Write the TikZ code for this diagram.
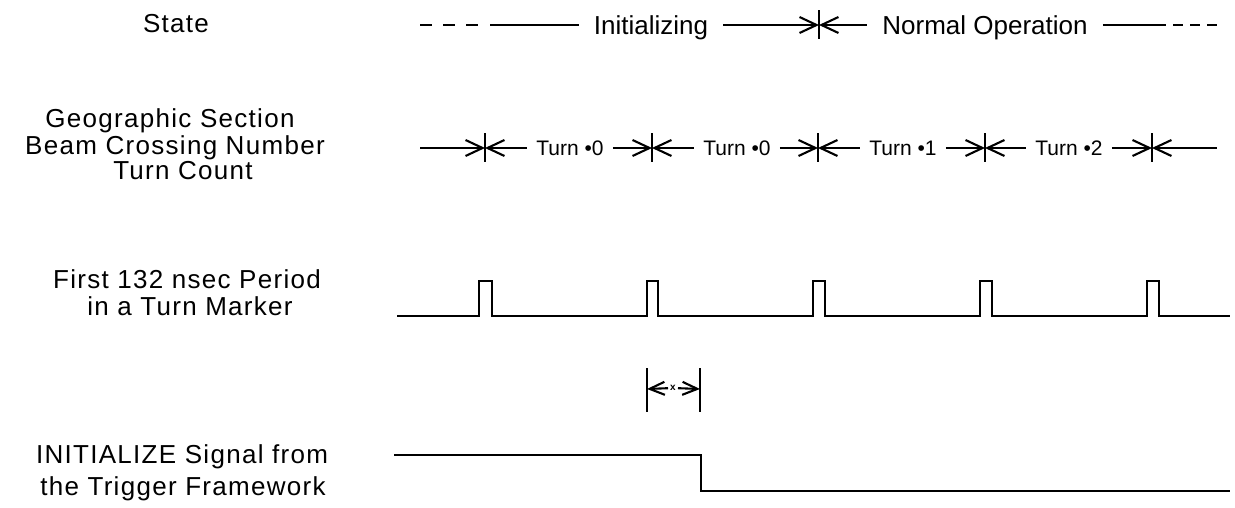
\documentclass[tikz,border=0pt]{standalone}
\usepackage{fontspec}
\setmainfont{Liberation Sans}
\newfontfamily\lblfont[LetterSpace=5]{Liberation Sans}
\usetikzlibrary{arrows.meta}
\tikzset{
  wire/.style={line width=2.1pt, line cap=butt},
  arr/.style={wire, -{Straight Barb[length=17pt,width=16pt]}},
  rarr/.style={wire, {Straight Barb[length=17pt,width=16pt]}-},
  lbl/.style={anchor=base, inner sep=0pt, font=\lblfont\fontsize{26}{28}\selectfont},
  big/.style={inner ysep=0pt, inner xsep=15pt, text height=18.6pt, text depth=0pt, font=\fontsize{26}{28}\selectfont},
  turn/.style={inner ysep=0pt, inner xsep=9pt, text height=15pt, text depth=0pt, font=\fontsize{21}{23}\selectfont},
  tick/.style={wire}
}
\begin{document}
\begin{tikzpicture}[x=1pt,y=-1pt]
\useasboundingbox (0,0) rectangle (1235,508);

% ---- left labels
\node[lbl] (lstate) at (176,33) {State};
\node[lbl] (lgeo)   at (170,128) {Geographic Section};
\node[lbl] (lbeam)  at (175,155) {Beam Crossing Number};
\node[lbl] (lturn)  at (183,180) {Turn Count};
\node[lbl] (lfirst) at (187,288) {First 132 nsec Period};
\node[lbl] (lin)    at (190,315) {in a Turn Marker};
\node[lbl] (linit)  at (182,463) {INITIALIZE Signal from};
\node[lbl] (ltrig)  at (183,495) {the Trigger Framework};

% ---- State row
\coordinate (s0) at (420,25);
\coordinate (s1) at (479,25);
\coordinate (s2) at (490,25);
\node[big] (init) at (651,25) {Initializing};
\coordinate (t1) at (819,25);
\node[big] (norm) at (985,25) {Normal Operation};
\coordinate (s3) at (1166,25);
\coordinate (s4) at (1173,25);
\coordinate (s5) at (1217,25);
\draw[wire, dash pattern=on 12pt off 11pt] (s0) -- (s1);
\draw[wire] (s2) -- (init);
\draw[arr] (init) -- (t1);
\draw[rarr] (t1) -- (norm);
\draw[wire] (norm) -- (s3);
\draw[wire, dash pattern=on 10pt off 7pt] (s4) -- (s5);
\draw[tick] ([yshift=14.5pt]t1) -- ([yshift=-14.5pt]t1);

% ---- Turn row
\coordinate (r0) at (420,148);
\coordinate (k1) at (485,148);
\coordinate (k2) at (652,148);
\coordinate (k3) at (818,148);
\coordinate (k4) at (985,148);
\coordinate (k5) at (1152,148);
\coordinate (r1) at (1217,148);
\node[turn] (ta) at (570,148) {Turn \textbullet0};
\node[turn] (tb) at (737,148) {Turn \textbullet0};
\node[turn] (tc) at (903,148) {Turn \textbullet1};
\node[turn] (td) at (1069,148) {Turn \textbullet2};
\draw[arr] (r0) -- (k1);
\draw[rarr] (k1) -- (ta);
\draw[arr] (ta) -- (k2);
\draw[rarr] (k2) -- (tb);
\draw[arr] (tb) -- (k3);
\draw[rarr] (k3) -- (tc);
\draw[arr] (tc) -- (k4);
\draw[rarr] (k4) -- (td);
\draw[arr] (td) -- (k5);
\draw[rarr] (k5) -- (r1);
\foreach \k in {k1,k2,k3,k4,k5}
  \draw[tick] ([yshift=14.5pt]\k) -- ([yshift=-14.5pt]\k);

% ---- Turn marker pulses
\draw[wire, line join=miter] (397,316)
  -- (479,316) -- (479,281) -- (492,281) -- (492,316)
  -- (647,316) -- (647,281) -- (658,281) -- (658,316)
  -- (813,316) -- (813,281) -- (825,281) -- (825,316)
  -- (980,316) -- (980,281) -- (992,281) -- (992,316)
  -- (1147,316) -- (1147,281) -- (1159,281) -- (1159,316)
  -- (1230,316);

% ---- x marker
\coordinate (xa) at (647,389);
\coordinate (xb) at (700,389);
\node[inner sep=2pt, font=\fontsize{10}{10}\selectfont\bfseries] (xt) at (673,388) {x};
\draw[tick] (647,368) -- (647,412);
\draw[tick] (700,368) -- (700,412);
\draw[wire, {Straight Barb[length=15pt,width=13pt]}-] (xa) -- (xt);
\draw[wire, -{Straight Barb[length=15pt,width=13pt]}] (xt) -- (xb);

% ---- INITIALIZE signal
\draw[wire, line join=miter] (394,455) -- (701,455) -- (701,491) -- (1230,491);
\end{tikzpicture}
\end{document}
